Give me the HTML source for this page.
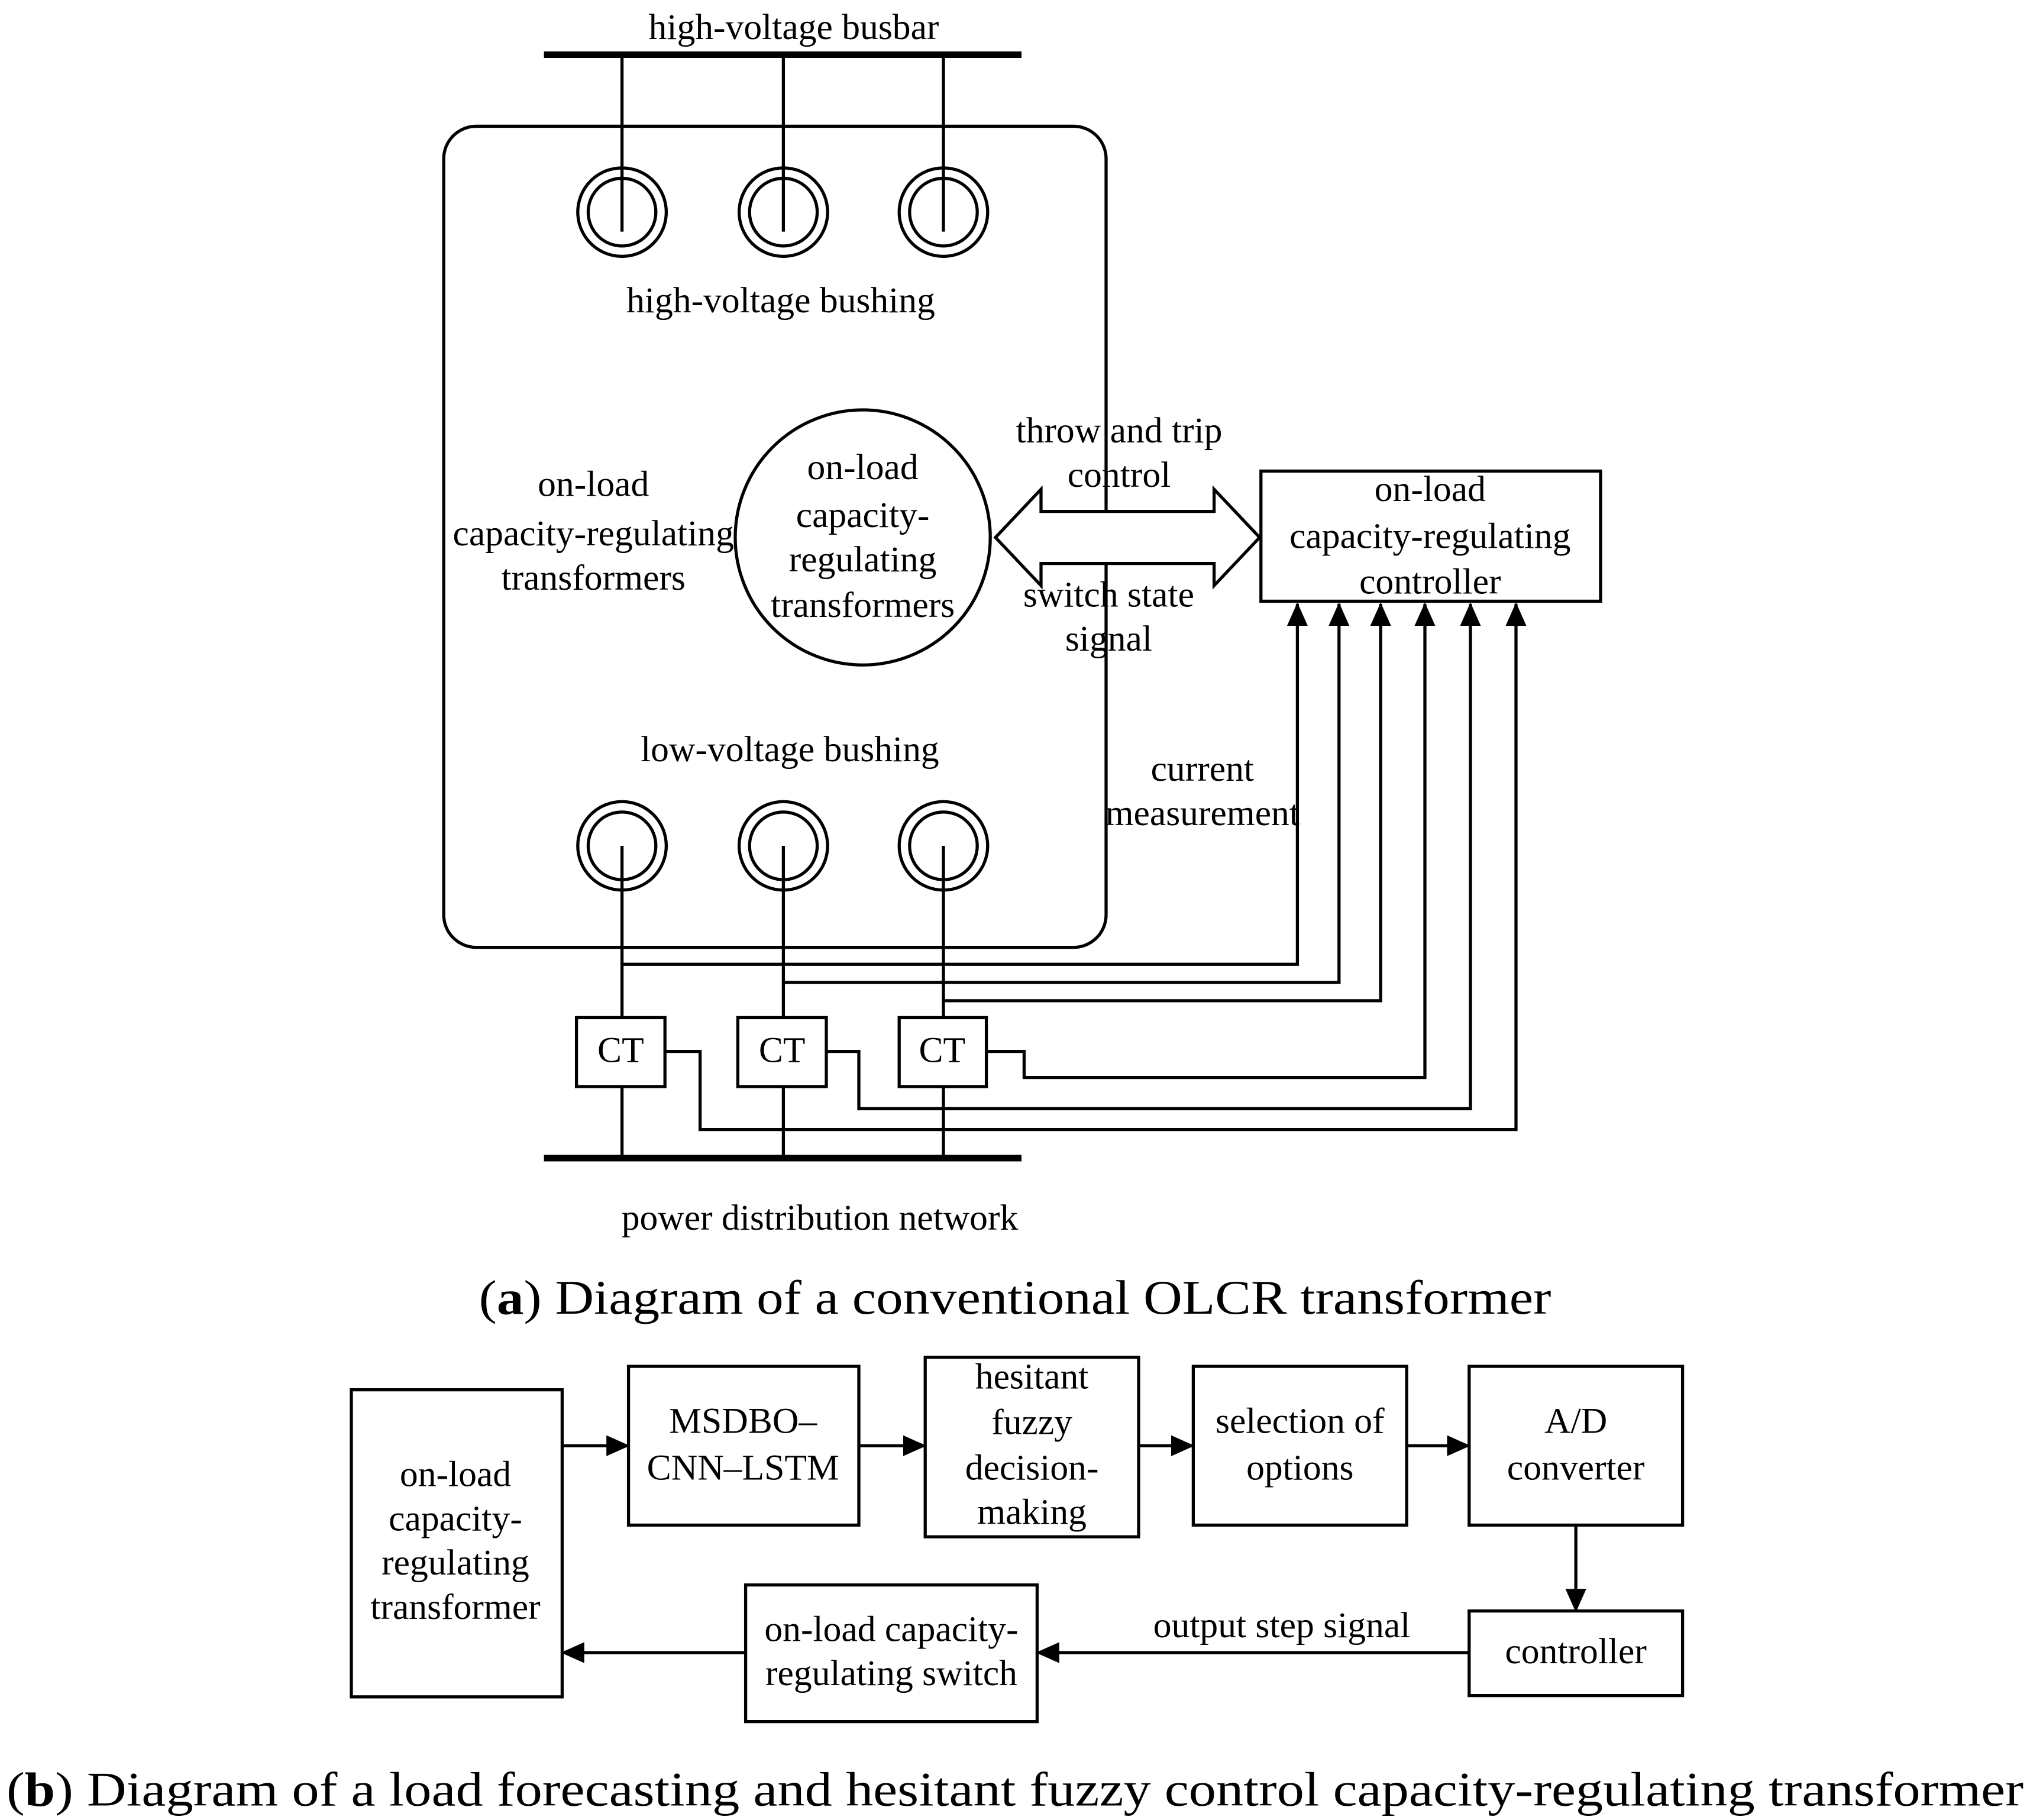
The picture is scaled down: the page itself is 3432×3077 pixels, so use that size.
<!DOCTYPE html>
<html><head><meta charset="utf-8"><style>
html,body{margin:0;padding:0;background:#fff;}
svg{display:block;}
text{font-family:"Liberation Serif",serif;fill:#000;}
.t{font-size:28px;text-anchor:middle;dominant-baseline:central;}
.c{font-size:37px;dominant-baseline:central;text-anchor:middle;font-family:"Liberation Serif",serif;}
</style></head><body>
<svg width="3432" height="3077" viewBox="0 0 1560 1398.6" xmlns="http://www.w3.org/2000/svg">
<defs>
<marker id="ah" markerWidth="18" markerHeight="16" refX="17" refY="8" orient="auto" markerUnits="userSpaceOnUse" viewBox="0 0 18 16">
<path d="M0,0 L18,8 L0,16 z" fill="#000"/></marker>
</defs>
<g stroke="#000" fill="none" stroke-width="2.4">
<line x1="418" y1="42" x2="785" y2="42" stroke-width="5"/>
<line x1="418" y1="890" x2="785" y2="890" stroke-width="5"/>
<rect x="341" y="97" width="509" height="631" rx="25"/>
<circle cx="478" cy="163" r="34"/><circle cx="478" cy="163" r="26"/>
<circle cx="602" cy="163" r="34"/><circle cx="602" cy="163" r="26"/>
<circle cx="725" cy="163" r="34"/><circle cx="725" cy="163" r="26"/>
<line x1="478" y1="42" x2="478" y2="178"/>
<line x1="602" y1="42" x2="602" y2="178"/>
<line x1="725" y1="42" x2="725" y2="178"/>
<circle cx="478" cy="650" r="34"/><circle cx="478" cy="650" r="26"/>
<circle cx="602" cy="650" r="34"/><circle cx="602" cy="650" r="26"/>
<circle cx="725" cy="650" r="34"/><circle cx="725" cy="650" r="26"/>
<line x1="478" y1="650" x2="478" y2="890"/>
<line x1="602" y1="650" x2="602" y2="890"/>
<line x1="725" y1="650" x2="725" y2="890"/>
<rect x="443" y="782" width="68" height="53" fill="#fff"/>
<rect x="567" y="782" width="68" height="53" fill="#fff"/>
<rect x="691" y="782" width="67" height="53" fill="#fff"/>
<circle cx="663" cy="413" r="98"/>
<path d="M765,413 L800,376 L800,393 L933,393 L933,376 L968,413 L933,450 L933,433 L800,433 L800,450 Z" fill="#fff"/>
<rect x="969" y="362" width="261" height="100"/>
<polyline points="478,741 997,741 997,464" marker-end="url(#ah)"/>
<polyline points="602,755 1029,755 1029,464" marker-end="url(#ah)"/>
<polyline points="725,769 1061,769 1061,464" marker-end="url(#ah)"/>
<polyline points="758,808 787,808 787,828 1095,828 1095,464" marker-end="url(#ah)"/>
<polyline points="635,808 660,808 660,852 1130,852 1130,464" marker-end="url(#ah)"/>
<polyline points="511,808 538,808 538,868 1165,868 1165,464" marker-end="url(#ah)"/>
<rect x="270" y="1068" width="162" height="236"/>
<rect x="483" y="1050" width="177" height="122"/>
<rect x="711" y="1043" width="164" height="138"/>
<rect x="917" y="1050" width="164" height="122"/>
<rect x="1129" y="1050" width="164" height="122"/>
<rect x="1129" y="1238" width="164" height="65"/>
<rect x="573" y="1218" width="224" height="105"/>
<line x1="432" y1="1111" x2="483" y2="1111" marker-end="url(#ah)"/>
<line x1="660" y1="1111" x2="711" y2="1111" marker-end="url(#ah)"/>
<line x1="875" y1="1111" x2="917" y2="1111" marker-end="url(#ah)"/>
<line x1="1081" y1="1111" x2="1129" y2="1111" marker-end="url(#ah)"/>
<line x1="1211" y1="1172" x2="1211" y2="1238" marker-end="url(#ah)"/>
<line x1="1129" y1="1270" x2="797" y2="1270" marker-end="url(#ah)"/>
<line x1="573" y1="1270" x2="432" y2="1270" marker-end="url(#ah)"/>
</g>
<text class="t" x="610" y="21">high-voltage busbar</text>
<text class="t" x="600" y="231">high-voltage bushing</text>
<text class="t" x="663" y="359">on-load</text>
<text class="t" x="663" y="396">capacity-</text>
<text class="t" x="663" y="430">regulating</text>
<text class="t" x="663" y="465">transformers</text>
<text class="t" x="456" y="372">on-load</text>
<text class="t" x="456" y="410">capacity-regulating</text>
<text class="t" x="456" y="444">transformers</text>
<text class="t" x="860" y="331">throw and trip</text>
<text class="t" x="860" y="365">control</text>
<text class="t" x="852" y="457">switch state</text>
<text class="t" x="852" y="491">signal</text>
<text class="t" x="1099" y="376">on-load</text>
<text class="t" x="1099" y="412">capacity-regulating</text>
<text class="t" x="1099" y="447">controller</text>
<text class="t" x="924" y="591">current</text>
<text class="t" x="924" y="625">measurement</text>
<text class="t" x="607" y="576">low-voltage bushing</text>
<text class="t" x="477" y="807">CT</text>
<text class="t" x="601" y="807">CT</text>
<text class="t" x="724" y="807">CT</text>
<text class="t" x="630" y="936">power distribution network</text>
<text class="c" x="780" y="997" textLength="824" lengthAdjust="spacingAndGlyphs">(<tspan font-weight="bold">a</tspan>) Diagram of a conventional OLCR transformer</text>
<text class="t" x="350" y="1133">on-load</text>
<text class="t" x="350" y="1167">capacity-</text>
<text class="t" x="350" y="1201">regulating</text>
<text class="t" x="350" y="1235">transformer</text>
<text class="t" x="571" y="1092">MSDBO–</text>
<text class="t" x="571" y="1128">CNN–LSTM</text>
<text class="t" x="793" y="1058">hesitant</text>
<text class="t" x="793" y="1093">fuzzy</text>
<text class="t" x="793" y="1128">decision-</text>
<text class="t" x="793" y="1162">making</text>
<text class="t" x="999" y="1092">selection of</text>
<text class="t" x="999" y="1128">options</text>
<text class="t" x="1211" y="1092">A/D</text>
<text class="t" x="1211" y="1128">converter</text>
<text class="t" x="1211" y="1269">controller</text>
<text class="t" x="685" y="1252">on-load capacity-</text>
<text class="t" x="685" y="1286">regulating switch</text>
<text class="t" x="985" y="1249">output step signal</text>
<text class="c" x="780" y="1375" textLength="1550" lengthAdjust="spacingAndGlyphs">(<tspan font-weight="bold">b</tspan>) Diagram of a load forecasting and hesitant fuzzy control capacity-regulating transformer</text>
</svg>
</body></html>
